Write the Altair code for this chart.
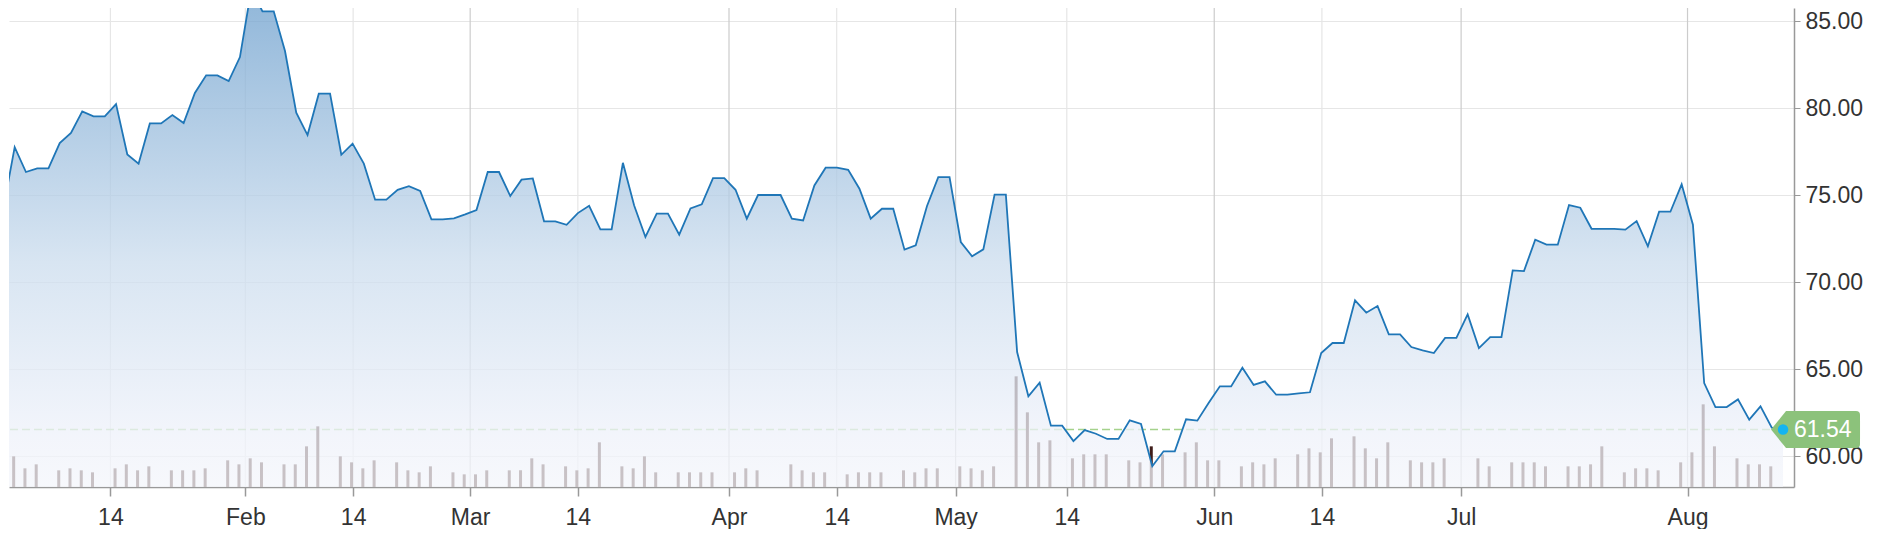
import altair as alt
import pandas as pd

# ---- data (one entry per trading session) ----
PRICES = [
    74.26, 77.76, 76.33, 76.54, 76.54, 77.99, 78.57, 79.81, 79.53, 79.53,
    80.23, 77.34, 76.81, 79.12, 79.12, 79.60, 79.14, 80.87, 81.88, 81.88,
    81.55, 82.93, 86.80, 85.56, 85.56, 83.28, 79.74, 78.45, 80.83, 80.83,
    77.32, 77.96, 76.81, 74.74, 74.74, 75.31, 75.52, 75.24, 73.61, 73.61,
    73.67, 73.90, 74.15, 76.33, 76.33, 74.95, 75.89, 75.96, 73.50, 73.50,
    73.30, 73.97, 74.39, 73.04, 73.04, 76.86, 74.41, 72.60, 73.94, 73.94,
    72.73, 74.24, 74.47, 75.98, 75.98, 75.31, 73.65, 75.01, 75.01, 75.01,
    73.65, 73.55, 75.56, 76.58, 76.58, 76.46, 75.37, 73.65, 74.22, 74.22,
    71.87, 72.12, 74.38, 76.04, 76.04, 72.31, 71.49, 71.89, 75.03, 75.03,
    65.99, 63.45, 64.23, 61.76, 61.76, 60.88, 61.51, 61.30, 61.00, 61.00,
    62.07, 61.86, 59.43, 60.29, 60.29, 62.13, 62.05, 63.06, 64.02, 64.02,
    65.09, 64.10, 64.31, 63.54, 63.54, 63.62, 63.68, 65.93, 66.51, 66.51,
    68.96, 68.25, 68.63, 67.01, 67.01, 66.28, 66.09, 65.93, 66.80, 66.80,
    68.15, 66.22, 66.85, 66.85, 70.68, 70.64, 72.44, 72.16, 72.16, 74.43,
    74.28, 73.07, 73.06, 73.06, 73.02, 73.51, 72.06, 74.05, 74.05, 75.62,
    73.30, 64.21, 62.83, 62.83, 63.27, 62.11, 62.87, 61.65, 61.54,
]

# volume, millions of shares (0 = no trading that session)
VOLUMES = [
    2.8, 4.6, 2.8, 3.4, 0.0, 2.5, 2.8, 2.5, 2.2, 0.0,
    2.8, 3.4, 2.5, 3.1, 0.0, 2.5, 2.5, 2.5, 2.8, 0.0,
    4.0, 3.4, 4.3, 3.7, 0.0, 3.4, 3.4, 6.1, 9.1, 0.0,
    4.6, 3.7, 2.8, 4.0, 0.0, 3.7, 2.5, 2.2, 3.1, 0.0,
    2.2, 1.9, 1.9, 2.5, 0.0, 2.5, 2.5, 4.3, 3.4, 0.0,
    3.1, 2.5, 2.8, 6.7, 0.0, 3.1, 2.8, 4.6, 2.2, 0.0,
    2.2, 2.2, 2.2, 2.2, 0.0, 2.2, 2.8, 2.5, 0.0, 0.0,
    3.4, 2.5, 2.2, 2.2, 0.0, 1.9, 2.2, 2.2, 2.2, 0.0,
    2.5, 2.2, 2.8, 2.8, 0.0, 3.1, 2.8, 2.5, 3.1, 0.0,
    16.6, 11.2, 6.7, 7.0, 0.0, 4.3, 4.9, 4.9, 4.9, 0.0,
    4.0, 3.7, 6.1, 4.9, 0.0, 5.2, 6.7, 4.0, 4.0, 0.0,
    3.1, 3.7, 3.4, 4.3, 0.0, 4.9, 5.8, 5.2, 7.3, 0.0,
    7.6, 5.8, 4.3, 6.7, 0.0, 4.0, 3.7, 3.7, 4.3, 0.0,
    0.0, 4.3, 3.1, 0.0, 3.7, 3.7, 3.7, 3.1, 0.0, 3.1,
    3.1, 3.4, 6.1, 0.0, 2.2, 2.8, 2.8, 2.5, 0.0, 3.7,
    5.2, 12.4, 6.1, 0.0, 4.3, 3.4, 3.4, 3.1, 0.0,
]

# x-axis ticks (position in sessions), their labels and whether the grid line is the darker one
TICK_POS = [9.5, 21.48, 31.05, 41.44, 51.0, 64.42, 73.98, 84.54, 94.41, 107.5, 117.06, 129.42, 149.52]
TICK_LABELS = ["14", "Feb", "14", "Mar", "14", "Apr", "14", "May", "14", "Jun", "14", "Jul", "Aug"]
TICK_DARK = [False, False, False, True, False, True, False, True, False, True, False, True, True]

Y_TICKS = [60, 65, 70, 75, 80, 85]
LAST_PRICE = 61.54

# ---- scales / layout ----
X_DOMAIN = [0.94, 158.53]
Y_DOMAIN = [58.24, 85.75]
VOL_DOMAIN = [0, 71.85]
W, H = 1785, 479
FONT = "Liberation Sans"
FS = 23

df = pd.DataFrame({"i": list(range(len(PRICES))), "price": PRICES, "vol": VOLUMES})
ticks = pd.DataFrame({
    "pos": TICK_POS,
    "label": TICK_LABELS,
    "grid": ["#cccccc" if d else "#e6e6e6" for d in TICK_DARK],
})
last = pd.DataFrame({"i": [len(PRICES) - 1], "price": [LAST_PRICE], "label": [f"{LAST_PRICE:.2f}"]})

label_expr = (
    "[" + ",".join(f"'{l}'" for l in TICK_LABELS) + "]"
    + "[indexof([" + ",".join(str(p) for p in TICK_POS) + "], datum.value)]"
)

x_axis = alt.Axis(
    values=TICK_POS, labelExpr=label_expr, grid=False, title=None,
    domainColor="#999999", domainWidth=1.5, tickColor="#999999", tickSize=9, tickWidth=1.5,
    labelFont=FONT, labelFontSize=FS, labelColor="#333333", labelPadding=10,
    labelFlush=False, labelOverlap=False,
)
x_scale = alt.Scale(domain=X_DOMAIN, nice=False, zero=False)


def X(field):
    return alt.X(f"{field}:Q", scale=x_scale, axis=x_axis)


y_scale = alt.Scale(domain=Y_DOMAIN, nice=False, zero=False)
y_axis = alt.Axis(
    orient="right", values=Y_TICKS, format=".2f", title=None,
    grid=True, gridColor="#e6e6e6", gridWidth=1.2,
    domainColor="#999999", domainWidth=1.5, tickColor="#999999", tickSize=6,
    labelFont=FONT, labelFontSize=FS, labelColor="#333333", labelPadding=5,
)


def Yp(field, axis=None):
    if axis is None:
        return alt.Y(f"{field}:Q", scale=y_scale, axis=None)
    return alt.Y(f"{field}:Q", scale=y_scale, axis=axis)


vgrid = alt.Chart(ticks).mark_rule(strokeWidth=1.2, clip=True).encode(
    x=X("pos"), color=alt.Color("grid:N", scale=None)
)

ref = alt.Chart(last).mark_rule(stroke="#a5d28c", strokeWidth=1.5, strokeDash=[8, 4]).encode(
    y=Yp("price")
)

bars = alt.Chart(df).transform_filter("datum.vol > 0").mark_bar(
    width=3, color="#3f1d1a", xOffset=-1, clip=True
).encode(
    x=X("i"),
    y=alt.Y("vol:Q", scale=alt.Scale(domain=VOL_DOMAIN, nice=False), axis=None),
)

area = alt.Chart(df).mark_area(
    clip=True,
    fillOpacity=0.76,
    color=alt.Gradient(
        gradient="linear", x1=0, y1=0, x2=0, y2=1,
        stops=[
            alt.GradientStop(color="#6c9fcd", offset=0),
            alt.GradientStop(color="#ccddee", offset=0.55),
            alt.GradientStop(color="#eff2fa", offset=0.9),
            alt.GradientStop(color="#f4f6fb", offset=1),
        ],
    ),
).encode(x=X("i"), y=Yp("price"), y2=alt.datum(Y_DOMAIN[0]))

line = alt.Chart(df).mark_line(clip=True, color="#1f76b7", strokeWidth=1.8).encode(
    x=X("i"), y=Yp("price", y_axis)
)

TAG_PATH = "M -0.81 0 L 0 -1 L 3.78 -1 Q 4 -1 4 -0.78 L 4 0.78 Q 4 1 3.78 1 L 0 1 Z"
tag = alt.Chart(last).mark_point(
    shape=TAG_PATH, size=1369, filled=True, color="#8cc27b", opacity=1, strokeWidth=0, xOffset=3
).encode(x=X("i"), y=Yp("price"))

dot = alt.Chart(last).mark_circle(size=110, color="#14b4f0", opacity=1).encode(
    x=X("i"), y=Yp("price")
)

tag_text = alt.Chart(last).mark_text(
    align="left", baseline="middle", dx=11, font=FONT, fontSize=FS, color="#ffffff"
).encode(x=X("i"), y=Yp("price"), text="label:N")

chart = (
    alt.layer(vgrid, ref, bars, area, line, tag, dot, tag_text)
    .resolve_scale(y="independent")
    .properties(width=W, height=H, padding=0, background="#ffffff")
    .configure_view(strokeWidth=0)
)

chart.save("out.html", embed_options={"renderer": "svg", "actions": False})
